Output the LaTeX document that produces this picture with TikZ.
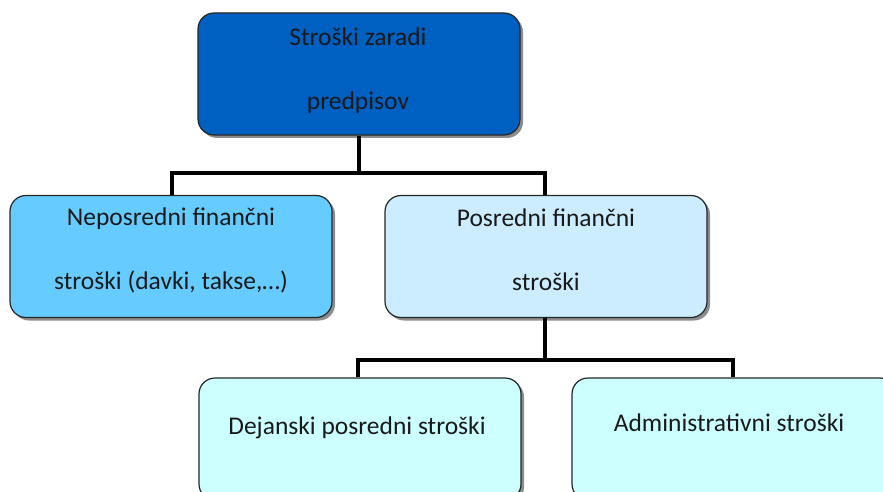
\documentclass[tikz,border=0pt]{standalone}
\usepackage{fontspec}
\setmainfont{Carlito}
\usetikzlibrary{shadows}
\definecolor{topblue}{HTML}{0060C2}
\definecolor{midblue}{HTML}{66CCFF}
\definecolor{paleblue}{HTML}{CCECFF}
\definecolor{palecyan}{HTML}{CCFFFF}
\begin{document}
\begin{tikzpicture}[x=1pt,y=-1pt,
  box/.style={draw=black!85, line width=1.2pt, rounded corners=16pt,
    minimum width=322pt, minimum height=122pt, inner sep=0pt,
    drop shadow={shadow xshift=3pt, shadow yshift=-3pt, fill=black!45, opacity=1}},
  lbl/.style={font=\fontsize{25.5}{64}\selectfont, align=center, text=black!90},
  conn/.style={line width=4pt, black}]
\useasboundingbox (0,0) rectangle (883,492);
% boxes
\node[box, fill=topblue] (top) at (359,74) {};
\node[box, fill=midblue] (left) at (171,256.5) {};
\node[box, fill=paleblue] (mid) at (546,256.5) {};
\node[box, fill=palecyan] (bl) at (360,439) {};
\node[box, fill=palecyan, minimum width=324pt] (br) at (734,439) {};
% labels
\node[lbl] (toptxt) at (358,71) {Stroški zaradi\\predpisov};
\node[lbl] (lefttxt) at (171,250) {Neposredni finančni\\stroški (davki, takse,…)};
\node[lbl] (midtxt) at (546,250) {Posredni finančni\\stroški};
\node[lbl] (bltxt) at (357,428) {Dejanski posredni stroški};
\node[lbl] (brtxt) at (729,423) {Administrativni stroški};
% connectors
\coordinate (j1) at (359,173);
\coordinate (j2) at (545,360);
\draw[conn] (top.south) -- (j1);
\draw[conn] (left.north -| 172,0) |- (j1) -| (mid.north -| 545,0);
\draw[conn] (mid.south -| 545,0) -- (j2);
\draw[conn] (bl.north -| 358,0) |- (j2) -| (br.north -| 733,0);
\end{tikzpicture}
\end{document}
